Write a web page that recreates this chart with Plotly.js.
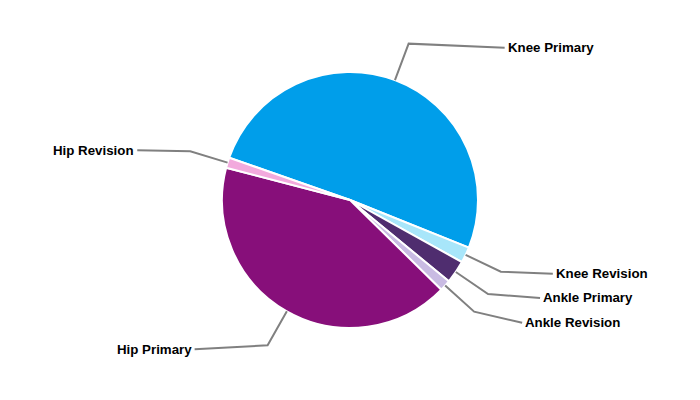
<!DOCTYPE html>
<html>
<head>
<meta charset="utf-8">
<script src="https://cdn.plot.ly/plotly-3.0.1.min.js"></script>
<style>html,body{margin:0;padding:0;background:#fff;}#chart{width:700px;height:400px;}</style>
</head>
<body>
<div id="chart"></div>
<script>
// ---- data ----
var categories = ["Knee Primary", "Knee Revision", "Ankle Primary", "Ankle Revision", "Hip Primary", "Hip Revision"];
var shares = [50.7, 2.0, 2.9, 1.4, 41.7, 1.3];
var sliceColors = ["#009EEA", "#A8E6FA", "#4F2D6F", "#C9BBE3", "#870F7A", "#F2AADD"];

// ---- layout constants ----
var W = 700, H = 400, MT = 72, MB = 72;
var ROT = -70.7;                 // clockwise degrees from 12 o'clock
var R_ELBOW = 167;               // px, elbow distance from centre
var leaderLen = [96, 52, 52, 48, 73, 53];
var leaderDy = [4, 2, 4, 11, 4, -1];

var plotH = H - MT - MB;
var cx = W / 2, cy = MT + plotH / 2, r = Math.min(W, plotH) / 2;
function px2paper(x, y) { return [x / W, (MT + plotH - y) / plotH]; }

var total = shares.reduce(function (a, b) { return a + b; }, 0);
var shapes = [], annotations = [];
var ang = ROT;
shares.forEach(function (v, i) {
  var span = v / total * 360;
  var mid = (ang + span / 2) * Math.PI / 180;
  ang += span;
  var sx = cx + r * Math.sin(mid), sy = cy - r * Math.cos(mid);
  var ex = cx + R_ELBOW * Math.sin(mid), ey = cy - R_ELBOW * Math.cos(mid);
  var right = Math.sin(mid) >= 0;
  var tx = ex + (right ? 1 : -1) * leaderLen[i], ty = ey + leaderDy[i];
  var p0 = px2paper(sx, sy), p1 = px2paper(ex, ey), p2 = px2paper(tx, ty);
  shapes.push({
    type: "path", xref: "paper", yref: "paper",
    path: "M" + p0[0] + "," + p0[1] + " L" + p1[0] + "," + p1[1] + " L" + p2[0] + "," + p2[1],
    line: { color: "#808080", width: 2 }
  });
  var tp = px2paper(tx + (right ? 1 : -1), ty);
  annotations.push({
    xref: "paper", yref: "paper", x: tp[0], y: tp[1],
    text: categories[i], showarrow: false,
    xanchor: right ? "left" : "right", yanchor: "middle",
    font: { family: "Liberation Sans, Arial, sans-serif", size: 13.3, color: "#000000", weight: "bold" }
  });
});

var trace = {
  type: "pie",
  labels: categories,
  values: shares,
  sort: false,
  direction: "clockwise",
  rotation: ROT,
  textinfo: "none",
  hoverinfo: "label+percent",
  marker: { colors: sliceColors, line: { color: "#ffffff", width: 2 } },
  showlegend: false
};

var layout = {
  width: W, height: H,
  margin: { l: 0, r: 0, t: MT, b: MB, pad: 0 },
  paper_bgcolor: "#ffffff",
  showlegend: false,
  shapes: shapes,
  annotations: annotations
};

Plotly.newPlot("chart", [trace], layout, { displayModeBar: false, staticPlot: true });
</script>
</body>
</html>
